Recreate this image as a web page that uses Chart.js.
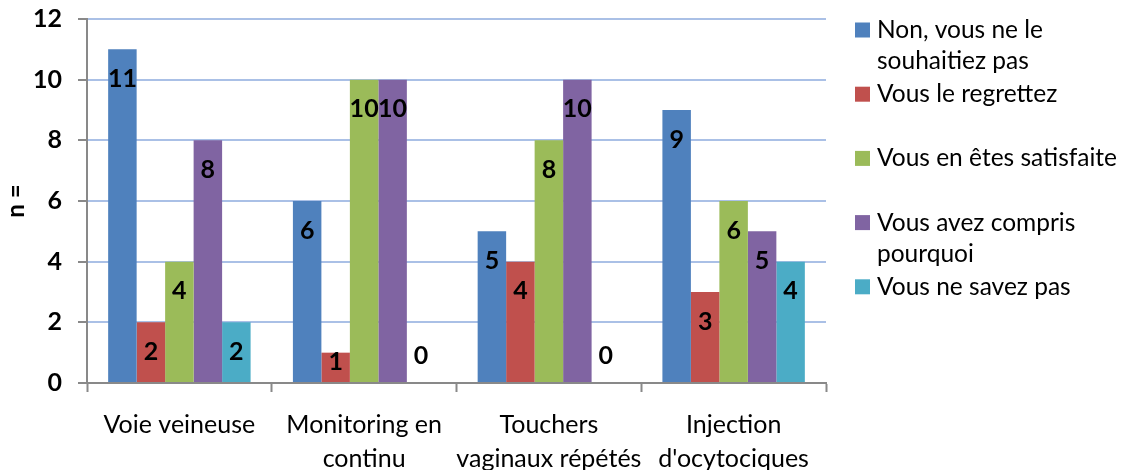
<!DOCTYPE html>
<html><head><meta charset="utf-8">
<script src="https://cdn.jsdelivr.net/npm/chart.js@4/dist/chart.umd.min.js"></script>
<style>html,body{margin:0;padding:0;background:#fff}#wrap{width:1130px;height:470px;position:relative}</style>
</head><body><div id="wrap"><canvas id="c" width="1130" height="470"></canvas></div>
<script>
const categories = [["Voie veineuse"], ["Monitoring en", "continu"], ["Touchers", "vaginaux répétés"], ["Injection", "d'ocytociques"]];
const seriesNames = ["Non, vous ne le souhaitiez pas", "Vous le regrettez", "Vous en êtes satisfaite", "Vous avez compris pourquoi", "Vous ne savez pas"];
const nonValues = [11, 6, 5, 9];
const regretValues = [2, 1, 4, 3];
const satisfaiteValues = [4, 10, 8, 6];
const comprisValues = [8, 10, 10, 5];
const nsppValues = [2, 0, 0, 4];
const yTicks = [0, 2, 4, 6, 8, 10, 12];
const yTitle = "n =";
const seriesColors = ["#4F81BD", "#C0504D", "#9BBB59", "#8064A2", "#4BACC6"];

const FONT = "Lato";
Chart.defaults.font.family = FONT;
Chart.defaults.color = "#000";

const valueLabels = {
  id: "valueLabels",
  afterDatasetsDraw(chart) {
    const ctx = chart.ctx;
    ctx.save();
    ctx.font = "bold 25px " + FONT;
    ctx.fillStyle = "#000";
    ctx.textAlign = "center";
    ctx.textBaseline = "middle";
    chart.data.datasets.forEach((ds, di) => {
      const meta = chart.getDatasetMeta(di);
      meta.data.forEach((el, i) => {
        const v = ds.data[i];
        let y;
        if (v === 0) y = el.base - 27;
        else y = Math.min(el.y + 29.5, el.base - 20);
        ctx.fillText(String(v), el.x, y);
      });
    });
    ctx.restore();
  }
};

const sideLegend = {
  id: "sideLegend",
  afterDraw(chart) {
    const ctx = chart.ctx;
    ctx.save();
    ctx.font = "24.5px " + FONT;
    ctx.fillStyle = "#000";
    ctx.textBaseline = "middle";
    ctx.textAlign = "left";
    const boxX = 855, textX = 877, maxW = 252;
    chart.data.datasets.forEach((ds, i) => {
      const y0 = 30 + i * 64.2;
      ctx.fillStyle = ds.backgroundColor;
      ctx.fillRect(boxX, y0 - 7.5, 15, 15);
      ctx.fillStyle = "#000";
      const words = ds.label.split(" ");
      const lines = [];
      let cur = "";
      words.forEach(w => {
        const t = cur ? cur + " " + w : w;
        if (ctx.measureText(t).width > maxW && cur) { lines.push(cur); cur = w; }
        else cur = t;
      });
      if (cur) lines.push(cur);
      lines.forEach((l, k) => ctx.fillText(l, textX, y0 + k * 31.5));
    });
    ctx.restore();
  }
};

const valueSeries = [nonValues, regretValues, satisfaiteValues, comprisValues, nsppValues];

new Chart(document.getElementById("c"), {
  type: "bar",
  data: {
    labels: categories,
    datasets: valueSeries.map((vals, i) => ({
      label: seriesNames[i],
      data: vals,
      backgroundColor: seriesColors[i],
      borderWidth: 0,
      barPercentage: 1.0,
      categoryPercentage: 0.771
    }))
  },
  options: {
    responsive: false,
    animation: false,
    devicePixelRatio: 1,
    layout: { padding: { top: 19, right: 304, left: 0, bottom: 0 } },
    plugins: { legend: { display: false }, tooltip: { enabled: false } },
    scales: {
      x: {
        afterFit(s) { s.height = 87; },
        grid: { offset: true, drawOnChartArea: false, drawTicks: true, tickLength: 9, tickColor: "#898989", tickWidth: 2 },
        border: { color: "#898989", width: 2 },
        ticks: { font: { size: 25, lineHeight: 1.36 }, color: "#000", padding: 16, maxRotation: 0, autoSkip: false }
      },
      y: {
        min: 0, max: 12,
        afterFit(s) { s.width = 87; s.paddingTop = 0; s.paddingBottom = 0; },
        afterBuildTicks(s) { s.ticks = yTicks.map(v => ({ value: v })); },
        grid: { color: "#aac0e6", lineWidth: 2, drawTicks: true, tickLength: 9, tickColor: "#898989", tickWidth: 2 },
        border: { color: "#898989", width: 2 },
        ticks: { font: { size: 25, weight: "bold" }, color: "#000", padding: 16 },
        title: { display: true, text: yTitle, font: { size: 24, weight: "bold" }, color: "#000", padding: { top: 2, bottom: 0 } }
      }
    }
  },
  plugins: [valueLabels, sideLegend]
});
</script></body></html>
